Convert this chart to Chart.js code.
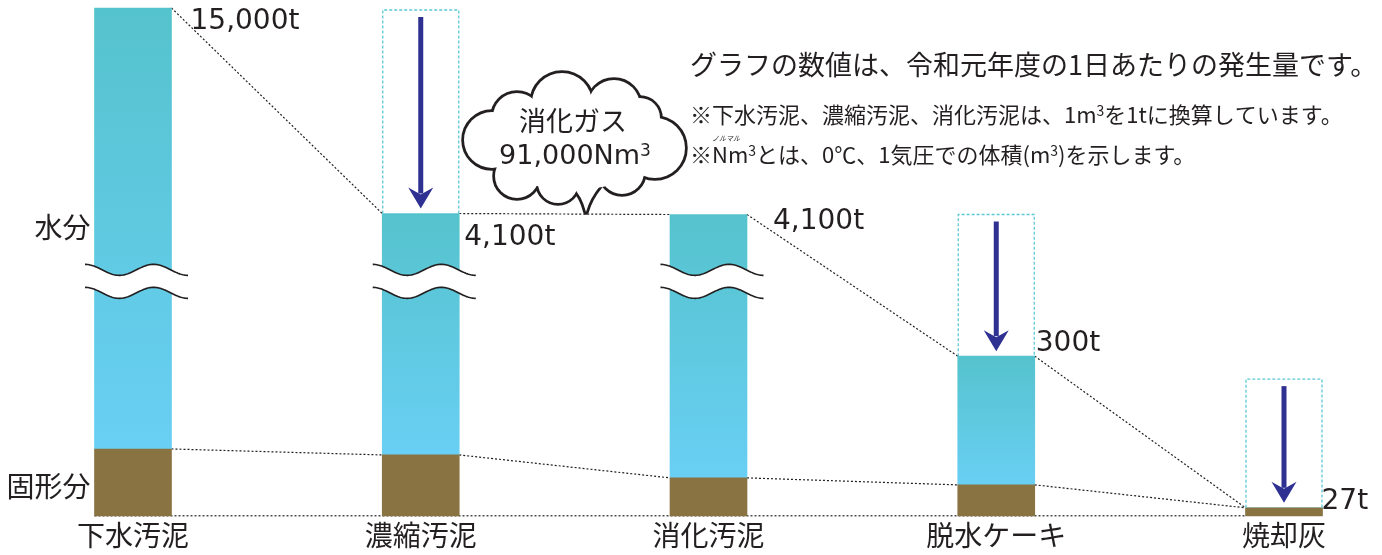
<!DOCTYPE html>
<html lang="ja">
<head>
<meta charset="utf-8">
<title>汚泥の発生量</title>
<script src="https://cdn.jsdelivr.net/npm/chart.js@4.4.0/dist/chart.umd.min.js"></script>
<style>
  html, body { margin: 0; padding: 0; background: #fff; }
  #wrap { width: 1382px; height: 555px; position: relative; }
</style>
</head>
<body>
<div id="wrap"><canvas id="sludge-chart"></canvas></div>
<script>
// process steps
const categories = ['下水汚泥', '濃縮汚泥', '消化汚泥', '脱水ケーキ', '焼却灰'];
// drawn heights (schematic, the axis is broken)
const solidHeights = [67, 61, 38, 31, 8];
const waterHeights = [442, 242, 264, 129, 0];
// height of the dotted outline = amount before the step
const beforeHeights = [null, 507, null, 302, 137];
// amount labels
const amountLabels = ['15,000t', '4,100t', '4,100t', '300t', '27t'];
const brokenBars = [true, true, true, false, false];

const ink = '#231F20';
const jp = '"Noto Sans CJK JP", "Noto Sans", sans-serif';
const num = '"DejaVu Sans", sans-serif';

// where each amount label sits, relative to the bar's right/top corner
const labelOffsets = [[19, 14], [5, 24], [26, 7], [1, -12], [-1, -6]];

function barBox(chart, i) {
    const s = chart.getDatasetMeta(0).data[i];
    const w = chart.getDatasetMeta(1).data[i];
    const half = s.width / 2;
    return {
        x: s.x, left: s.x - half, right: s.x + half,
        top: Math.min(s.y, w.y), solidTop: s.y, base: s.base
    };
}

function dotted(ctx, x1, y1, x2, y2) {
    ctx.beginPath();
    ctx.moveTo(x1, y1);
    ctx.lineTo(x2, y2);
    ctx.stroke();
}

// text with superscript pieces: parts = [[text, sup], ...]
function richText(ctx, parts, x, y, size, family, align) {
    const fontFor = sup => (sup ? Math.round(size * 0.62) : size) + 'px ' + family;
    let total = 0;
    parts.forEach(([t, sup]) => { ctx.font = fontFor(sup); total += ctx.measureText(t).width; });
    let cx = align === 'center' ? x - total / 2 : x;
    ctx.textAlign = 'left';
    ctx.textBaseline = 'middle';
    parts.forEach(([t, sup]) => {
        ctx.font = fontFor(sup);
        ctx.fillText(t, cx, sup ? y - size * 0.2 : y);
        cx += ctx.measureText(t).width;
    });
}

function wavePath(cx, yc, forward) {
    const pts = [];
    for (let dx = -48; dx <= 55; dx += 1) {
        pts.push([cx + dx, yc - 5.5 * Math.cos(Math.PI * (dx + 48) / 34.3)]);
    }
    if (!forward) pts.reverse();
    return pts;
}

function drawArrow(ctx, x, y1, y2) {
    ctx.fillStyle = '#2E3192';
    ctx.fillRect(x - 2.5, y1, 5, y2 - y1 - 15);
    ctx.beginPath();
    ctx.moveTo(x, y2);
    ctx.lineTo(x - 12.5, y2 - 21);
    ctx.lineTo(x, y2 - 14);
    ctx.lineTo(x + 12.5, y2 - 21);
    ctx.closePath();
    ctx.fill();
}

function drawCloud(ctx) {
    const circles = [
        [562, 103, 30], [517, 117, 24], [614, 106, 26], [640, 118, 20],
        [655, 148, 30], [492, 140, 28], [517, 176, 22], [558, 183, 20],
        [622, 172, 22]
    ];
    const tail = () => {
        ctx.beginPath();
        ctx.moveTo(572, 186);
        ctx.quadraticCurveTo(582, 196, 586, 212);
        ctx.quadraticCurveTo(590, 198, 600, 186);
        ctx.closePath();
    };
    ctx.lineWidth = 5.5;
    ctx.strokeStyle = ink;
    ctx.lineJoin = 'round';
    circles.forEach(([x, y, r]) => {
        ctx.beginPath(); ctx.arc(x, y, r, 0, Math.PI * 2); ctx.stroke();
    });
    tail(); ctx.stroke();
    ctx.fillStyle = '#fff';
    circles.forEach(([x, y, r]) => {
        ctx.beginPath(); ctx.arc(x, y, r, 0, Math.PI * 2); ctx.fill();
    });
    ctx.beginPath();
    ctx.ellipse(572, 145, 85, 45, 0, 0, Math.PI * 2);
    ctx.fill();
    tail(); ctx.fill();

    ctx.fillStyle = ink;
    ctx.textAlign = 'center';
    ctx.textBaseline = 'middle';
    ctx.font = '27px ' + jp;
    ctx.fillText('消化ガス', 573, 121);
    richText(ctx, [['91,000Nm', false], ['3', true]], 575, 157, 27, num, 'center');
}

const sketch = {
    id: 'sketch',
    beforeDatasetsDraw(chart) {
        const ctx = chart.ctx;
        ctx.save();
        ctx.strokeStyle = ink;
        ctx.lineWidth = 1.2;
        ctx.setLineDash([2, 2]);
        const boxes = categories.map((c, i) => barBox(chart, i));
        for (let i = 0; i < boxes.length - 1; i++) {
            const a = boxes[i], b = boxes[i + 1];
            dotted(ctx, a.right, a.top, b.left, b.top);
            dotted(ctx, a.right, a.solidTop, b.left, b.solidTop);
        }
        dotted(ctx, boxes[0].left, boxes[0].base, boxes[4].left, boxes[4].base);
        ctx.restore();
    },
    afterDatasetsDraw(chart) {
        const ctx = chart.ctx;
        const y = chart.scales.y;
        const boxes = categories.map((c, i) => barBox(chart, i));
        ctx.save();

        // break marks
        const mid = y.getPixelForValue(235);
        boxes.forEach((b, i) => {
            if (!brokenBars[i]) return;
            const w1 = wavePath(b.x, mid - 11.5, true);
            const w2 = wavePath(b.x, mid + 11.5, false);
            ctx.beginPath();
            w1.concat(w2).forEach(([px, py], k) => k ? ctx.lineTo(px, py) : ctx.moveTo(px, py));
            ctx.closePath();
            ctx.fillStyle = '#fff';
            ctx.fill();
            ctx.strokeStyle = ink;
            ctx.lineWidth = 1.6;
            [w1, w2].forEach(w => {
                ctx.beginPath();
                w.forEach(([px, py], k) => k ? ctx.lineTo(px, py) : ctx.moveTo(px, py));
                ctx.stroke();
            });
        });

        // outline of the amount before each reduction, with arrow
        boxes.forEach((b, i) => {
            if (beforeHeights[i] == null) return;
            const t = y.getPixelForValue(beforeHeights[i]);
            ctx.save();
            ctx.strokeStyle = '#5BC8D4';
            ctx.lineWidth = 1.3;
            ctx.setLineDash([3, 2]);
            ctx.beginPath();
            ctx.moveTo(b.left + 0.5, b.top);
            ctx.lineTo(b.left + 0.5, t);
            ctx.lineTo(b.right - 0.5, t);
            ctx.lineTo(b.right - 0.5, b.top);
            ctx.stroke();
            ctx.restore();
            drawArrow(ctx, b.x, t + 7, b.top - 5);
        });

        // amount labels
        ctx.fillStyle = ink;
        ctx.textAlign = 'left';
        ctx.textBaseline = 'middle';
        ctx.font = '28px ' + num;
        boxes.forEach((b, i) => {
            const [dx, dy] = labelOffsets[i];
            ctx.fillText(amountLabels[i], b.right + dx, b.top + dy);
        });

        // series names on the left
        ctx.font = '28px ' + jp;
        ctx.textAlign = 'right';
        ctx.fillText(chart.data.datasets[1].label, boxes[0].left - 4, y.getPixelForValue(289));
        ctx.fillText(chart.data.datasets[0].label, boxes[0].left - 4, y.getPixelForValue(30));

        drawCloud(ctx);

        // notes
        ctx.fillStyle = ink;
        ctx.textAlign = 'left';
        ctx.textBaseline = 'middle';
        ctx.font = '27px ' + jp;
        ctx.fillText('グラフの数値は、令和元年度の1日あたりの発生量です。', 690, 65);
        richText(ctx, [['※下水汚泥、濃縮汚泥、消化汚泥は、1m', false], ['3', true], ['を1tに換算しています。', false]], 690, 115, 22, jp);
        richText(ctx, [['※Nm', false], ['3', true], ['とは、0℃、1気圧での体積(m', false], ['3', true], [')を示します。', false]], 690, 155, 22, jp);
        ctx.font = 'italic 7px ' + jp;
        ctx.fillText('ノルマル', 712, 138);
        ctx.restore();
    }
};

const waterFill = (c) => {
    const chart = c.chart;
    if (!chart.chartArea || c.type !== 'data') return '#5EC9E2';
    const i = c.dataIndex;
    const y = chart.scales.y;
    const top = y.getPixelForValue(solidHeights[i] + waterHeights[i]);
    const bot = y.getPixelForValue(solidHeights[i]);
    if (bot - top < 1) return '#5EC9E2';
    const g = chart.ctx.createLinearGradient(0, top, 0, bot);
    g.addColorStop(0, '#55C3CD');
    g.addColorStop(1, '#69CFF4');
    return g;
};

new Chart(document.getElementById('sludge-chart'), {
    type: 'bar',
    data: {
        labels: categories,
        datasets: [
            { label: '固形分', data: solidHeights, backgroundColor: '#8A7342', clip: false },
            { label: '水分', data: waterHeights, backgroundColor: waterFill, clip: false }
        ]
    },
    options: {
        responsive: true,
        maintainAspectRatio: false,
        animation: false,
        barThickness: 77,
        layout: { padding: { left: 133, right: 98, top: 7, bottom: 0 } },
        scales: {
            x: {
                stacked: true,
                offset: false,
                grid: { display: false, drawTicks: false },
                border: { display: false },
                ticks: { color: ink, padding: 7, font: { family: jp, size: 28, lineHeight: 0.9 } }
            },
            y: {
                stacked: true,
                display: false,
                min: 0,
                max: 510
            }
        },
        plugins: {
            legend: { display: false },
            tooltip: { enabled: false }
        }
    },
    plugins: [sketch]
});
</script>
</body>
</html>
